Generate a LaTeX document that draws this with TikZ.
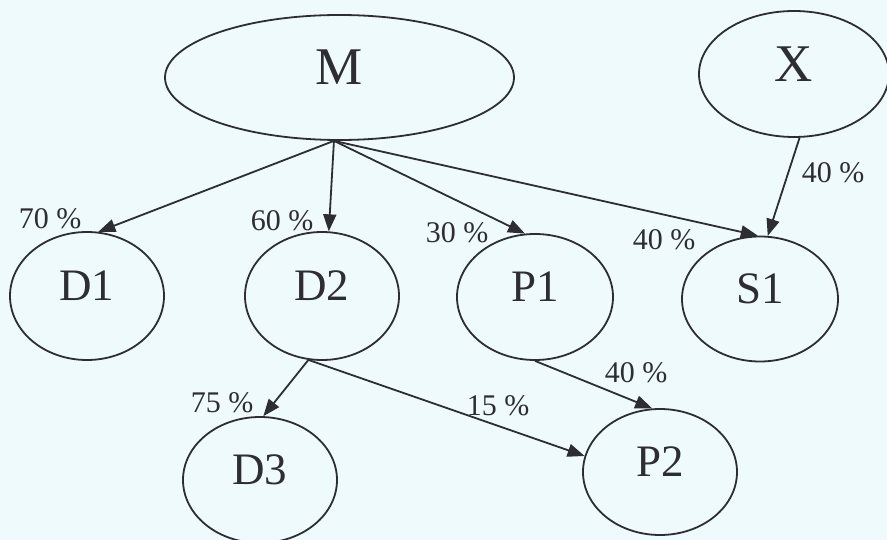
\documentclass[tikz,border=0pt]{standalone}
\usepackage{fontspec}
\setmainfont{Liberation Serif}
\usetikzlibrary{shapes.geometric,arrows.meta}
\definecolor{bg}{RGB}{239,250,253}
\definecolor{ink}{RGB}{45,45,50}
\tikzset{
  ell/.style={ellipse,draw=ink,line width=1.8pt,inner sep=0pt,text=ink,
              text depth=20pt,font=\fontsize{45}{50}\selectfont},
  big/.style={font=\fontsize{53}{58}\selectfont},
  conn/.style={draw=ink,line width=1.8pt,-{Triangle[length=17pt,width=13pt]}},
  pct/.style={text=ink,inner sep=0pt,font=\fontsize{30}{34}\selectfont}
}
\begin{document}
\begin{tikzpicture}[x=1pt,y=-1pt]
\fill[bg] (0,0) rectangle (887,540);
\useasboundingbox (0,0) rectangle (887,540);
\node[ell,big,minimum width=349pt,minimum height=125pt] (M) at (339.5,77.5) {M};
\node[ell,big,minimum width=190pt,minimum height=126pt] (X) at (794,74) {X};
\node[ell,minimum width=154pt,minimum height=128pt] (D1) at (87,296) {D1};
\node[ell,minimum width=154pt,minimum height=128pt] (D2) at (322,296) {D2};
\node[ell,minimum width=156pt,minimum height=126pt] (P1) at (535,297) {P1};
\node[ell,minimum width=156pt,minimum height=125pt] (S1) at (760,299) {S1};
\node[ell,minimum width=154pt,minimum height=126pt] (D3) at (260,480) {D3};
\node[ell,minimum width=154pt,minimum height=126pt] (P2) at (660,472) {P2};
\draw[conn] (M.265) -- (D1.80);
\draw[conn] (M.265) -- (D2.84);
\draw[conn] (M.265) -- (P1.99);
\draw[conn] (M.265) -- (S1.92);
\draw[conn] (X.275) -- (S1.83);
\draw[conn] (D2.258) -- (D3.87);
\draw[conn] (D2.258) -- (P2.168);
\draw[conn] (P1.270) -- (P2.97);
\node[pct] (l1) at (50,219) {70 \%};
\node[pct] (l2) at (282,221) {60 \%};
\node[pct] (l3) at (457,233) {30 \%};
\node[pct] (l4) at (664,240) {40 \%};
\node[pct] (l5) at (833,173) {40 \%};
\node[pct] (l6) at (222,403) {75 \%};
\node[pct] (l7) at (498,406) {15 \%};
\node[pct] (l8) at (636,373) {40 \%};
\end{tikzpicture}
\end{document}
